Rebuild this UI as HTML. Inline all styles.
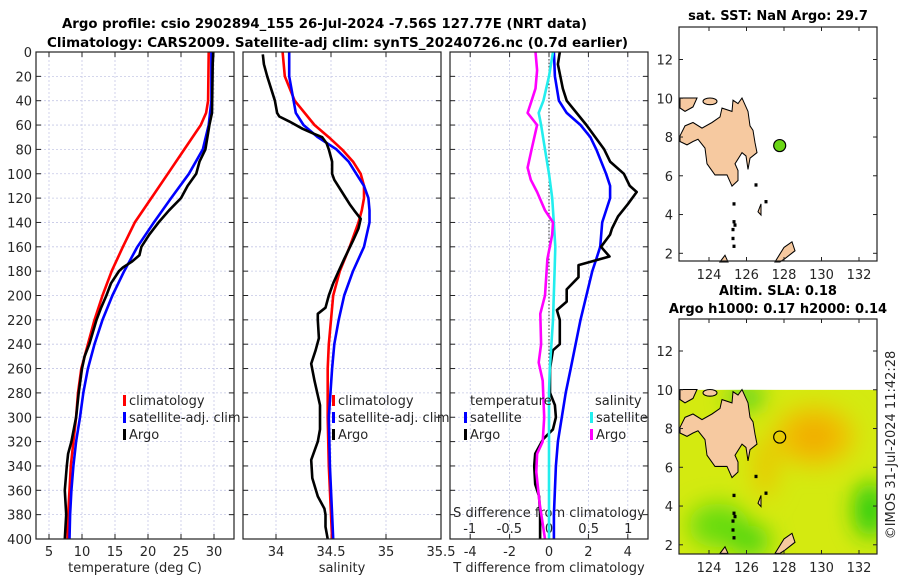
<!DOCTYPE html>
<html><head><meta charset="utf-8"><style>
body{margin:0;background:#fff;}
svg{display:block;font-family:"DejaVu Sans","Liberation Sans",sans-serif;}
.tk{font-size:13px;fill:#262626;}
.ti{font-size:13px;font-weight:bold;fill:#000;}
</style></head><body>
<svg id="fig" width="900" height="580" viewBox="0 0 900 580" xmlns="http://www.w3.org/2000/svg">
<text class="ti" x="62" y="28" textLength="525" lengthAdjust="spacingAndGlyphs">Argo profile: csio 2902894_155 26-Jul-2024 -7.56S 127.77E (NRT data)</text>
<text class="ti" x="47" y="47" textLength="581" lengthAdjust="spacingAndGlyphs">Climatology: CARS2009. Satellite-adj clim: synTS_20240726.nc (0.7d earlier)</text>
<g id="p1"></g>
<g id="p2"></g>
<g id="p3"></g>
<g id="m1"></g>
<g id="m2"></g>
<text class="tk" transform="translate(895,445) rotate(-90)" text-anchor="middle">©IMOS 31-Jul-2024 11:42:28</text>
</svg>
<script>
// ---- data ----
const tClimDepth=[0,40,50,60,80,100,120,140,160,180,200,220,240,260,280,300,320,340,360,380,400];
const tClimVal=[29.2,29.1,28.8,28.0,25.5,23.0,20.5,18.0,16.2,14.5,13.1,11.9,10.9,9.9,9.4,9.1,8.7,8.3,8.1,7.9,7.8];
const tSatDepth=[0,40,60,80,100,120,140,160,180,200,220,240,260,280,300,320,340,360,380,400];
const tSatVal=[29.6,29.6,29.2,28.3,26.2,23.5,20.9,18.4,16.4,14.6,13.1,11.9,10.9,10.2,9.7,9.1,8.7,8.4,8.2,8.1];
const tArgoDepth=[0,10,50,60,80,90,100,110,120,130,140,150,160,167,172,177,180,190,200,210,220,240,250,260,280,300,320,330,340,360,380,400];
const tArgoVal=[29.9,29.8,29.7,29.3,28.7,27.8,27.3,26.0,25.0,23.2,21.6,20.2,19.0,18.7,17.6,16.2,15.6,14.4,13.7,12.9,12.2,11.1,10.4,10.0,9.5,9.1,8.4,7.9,7.7,7.4,7.6,7.4];
const sClimDepth=[0,20,40,60,70,80,90,100,110,120,130,140,160,180,190,200,220,240,260,300,340,380,400];
const sClimVal=[34.06,34.08,34.17,34.35,34.48,34.60,34.70,34.77,34.80,34.80,34.78,34.75,34.67,34.58,34.55,34.52,34.50,34.48,34.47,34.47,34.48,34.50,34.51];
const sSatDepth=[0,20,40,50,60,70,80,90,100,110,120,130,140,160,180,200,220,240,260,300,340,380,400];
const sSatVal=[34.12,34.12,34.16,34.18,34.25,34.38,34.55,34.66,34.73,34.80,34.84,34.85,34.85,34.80,34.70,34.62,34.57,34.53,34.51,34.48,34.49,34.51,34.52];
const sArgoDepth=[2,10,20,40,50,53,57,63,67,70,75,80,90,100,105,115,125,130,137,145,155,170,180,190,200,210,215,220,235,245,256,270,290,310,320,335,350,365,375,380,390,400];
const sArgoVal=[33.88,33.89,33.92,33.99,34.01,34.03,34.12,34.24,34.34,34.42,34.46,34.48,34.51,34.51,34.53,34.60,34.67,34.71,34.77,34.75,34.70,34.62,34.57,34.52,34.48,34.45,34.38,34.38,34.39,34.36,34.32,34.35,34.40,34.40,34.38,34.32,34.33,34.38,34.44,34.45,34.45,34.47];
const dTSatDepth=[0,20,40,50,60,70,80,100,110,120,140,160,170,180,200,220,240,260,280,300,320,340,360,380,400];
const dTSatVal=[0.25,0.3,0.5,0.9,1.6,2.1,2.4,2.9,3.1,3.1,2.7,2.6,2.4,2.2,1.9,1.6,1.35,1.1,0.85,0.65,0.45,0.35,0.3,0.25,0.25];
const dTArgoDepth=[0,10,30,40,60,80,90,100,110,115,125,135,145,150,160,168,175,185,195,205,212,220,240,245,260,280,290,300,310,318,330,340,355,365,380,400];
const dTArgoVal=[0.55,0.45,0.7,0.9,1.9,2.8,3.1,3.8,4.1,4.45,4.0,3.5,3.2,3.1,2.64,3.07,1.5,1.5,0.9,0.9,0.4,0.55,0.55,0.2,0.05,0.05,0.3,0.35,0.2,-0.3,-0.7,-0.75,-0.7,-0.5,-0.45,-0.45];
const dSSatDepth=[0,20,40,50,60,80,100,120,140,160,180,200,220,240,260,280,300,340,400];
const dSSatVal=[0.05,0.0,-0.07,-0.13,-0.1,-0.05,0.0,0.04,0.06,0.08,0.07,0.06,0.05,0.03,0.01,0,0,0,0];
const dSArgoDepth=[0,15,30,40,50,60,80,95,105,115,130,140,150,170,200,215,240,255,270,300,320,330,345,370,400];
const dSArgoVal=[-0.17,-0.15,-0.17,-0.22,-0.27,-0.15,-0.22,-0.27,-0.23,-0.15,-0.05,0.05,0.04,-0.02,-0.05,-0.11,-0.1,-0.13,-0.08,-0.06,-0.08,-0.15,-0.16,-0.12,-0.05];
const depthTicks=[0,20,40,60,80,100,120,140,160,180,200,220,240,260,280,300,320,340,360,380,400];
const tTicks=[5,10,15,20,25,30];
const sTicks=[34,34.5,35,35.5];
const dTTicks=[-4,-2,0,2,4];
const dSTicks=[-1,-0.5,0,0.5,1];
const lonTicks=[124,126,128,130,132];
const latTicks=[2,4,6,8,10,12];
const argoLon=127.77, argoLat=7.56;

// ---- helpers ----
const NS="http://www.w3.org/2000/svg";
function mk(parent,tag,attrs,txt){const e=document.createElementNS(NS,tag);for(const k in attrs)e.setAttribute(k,attrs[k]);if(txt!==undefined)e.textContent=txt;parent.appendChild(e);return e;}
const Y0=52,Y1=539;
const yD=d=>Y0+d/400*(Y1-Y0);
function panel(g,x0,x1,xs,xticks,xlab,showY){
  for(const d of depthTicks){const l=mk(g,'line',{x1:x0,x2:x1,y1:yD(d),y2:yD(d),stroke:'#c5c8e6','stroke-width':0.8,'stroke-dasharray':'2,2'});}
  for(const v of xticks){const x=xs(v);if(x>x0+1&&x<x1-1){const l=mk(g,'line',{x1:x,x2:x,y1:Y0,y2:Y1,stroke:'#c5c8e6','stroke-width':0.8,'stroke-dasharray':'2,2'});}}
  for(const d of depthTicks){mk(g,'line',{x1:x0,x2:x0+5,y1:yD(d),y2:yD(d),stroke:'#222'});mk(g,'line',{x1:x1-5,x2:x1,y1:yD(d),y2:yD(d),stroke:'#222'});
    if(showY){const t=mk(g,'text',{class:'tk',x:x0-4,y:yD(d)+5,'text-anchor':'end'},d);}}
  for(const v of xticks){const x=xs(v);mk(g,'line',{x1:x,x2:x,y1:Y1-5,y2:Y1,stroke:'#222'});mk(g,'line',{x1:x,x2:x,y1:Y0,y2:Y0+5,stroke:'#222'});
    const t=mk(g,'text',{class:'tk',x:x,y:Y1+17,'text-anchor':'middle'},v);}
  const t=mk(g,'text',{class:'tk',x:(x0+x1)/2,y:572,'text-anchor':'middle'},xlab);
  
}
function frame(g,x0,x1){const r=mk(g,'rect',{x:x0,y:Y0,width:x1-x0,height:Y1-Y0,fill:'none',stroke:'#222','stroke-width':1.2});}
function line(g,xs,depths,vals,color,name){const pts=depths.map((d,i)=>xs(vals[i]).toFixed(1)+','+yD(d).toFixed(1)).join(' ');
  const p=mk(g,'polyline',{points:pts,fill:'none',stroke:color,'stroke-width':2.6,'stroke-linejoin':'round'});}
function legend(g,x,y,color,label){mk(g,'rect',{x:x-6,y:y-10,width:3,height:11,fill:color});const t=mk(g,'text',{class:'tk',x:x,y:y},label);}

// panel 1
const p1=document.getElementById('p1');const xT=v=>49+(v-5)*6.6;
panel(p1,36,234,xT,tTicks,'temperature (deg C)',true);
line(p1,xT,tClimDepth,tClimVal,'#ff0000','climatology-line');
line(p1,xT,tSatDepth,tSatVal,'#0000ff','satellite-clim-line');
line(p1,xT,tArgoDepth,tArgoVal,'#000000','argo-temperature-line');
legend(p1,129,405,'#ff0000','climatology');legend(p1,129,422,'#0000ff','satellite-adj. clim');legend(p1,129,439,'#000','Argo');
frame(p1,36,234);
// panel 2
const p2=document.getElementById('p2');const xS=v=>276+(v-34)*110;
panel(p2,243,441,xS,sTicks,'salinity',false);
line(p2,xS,sClimDepth,sClimVal,'#ff0000','climatology-salinity-line');
line(p2,xS,sSatDepth,sSatVal,'#0000ff','satellite-salinity-line');
line(p2,xS,sArgoDepth,sArgoVal,'#000000','argo-salinity-line');
legend(p2,338,405,'#ff0000','climatology');legend(p2,338,422,'#0000ff','satellite-adj. clim');legend(p2,338,439,'#000','Argo');
frame(p2,243,441);
// panel 3
const p3=document.getElementById('p3');const xdT=v=>549+v*19.7;const xdS=v=>549+v*79.3;
panel(p3,450,648,xdT,dTTicks,'T difference from climatology',false);
mk(p3,'line',{x1:549,x2:549,y1:Y0,y2:Y1,stroke:'#333','stroke-width':1,'stroke-dasharray':'1.5,2'});
for(const v of dSTicks){const t=mk(p3,'text',{class:'tk',x:xdS(v),y:533,'text-anchor':'middle'},v);}
const st=mk(p3,'text',{class:'tk',x:549,y:517,'text-anchor':'middle'},'S difference from climatology');
line(p3,xdT,dTSatDepth,dTSatVal,'#0000ff','temp-satellite-diff-line');
line(p3,xdT,dTArgoDepth,dTArgoVal,'#000000','temp-argo-diff-line');
line(p3,xdS,dSSatDepth,dSSatVal,'#22eeee','sal-satellite-diff-line');
line(p3,xdS,dSArgoDepth,dSArgoVal,'#ff00ff','sal-argo-diff-line');
{const t=mk(p3,'text',{class:'tk',x:470,y:405},'temperature');}
legend(p3,470,422,'#0000ff','satellite');legend(p3,470,439,'#000','Argo');
{const t=mk(p3,'text',{class:'tk',x:595,y:405},'salinity');}
legend(p3,596,422,'#22eeee','satellite');legend(p3,596,439,'#ff00ff','Argo');
frame(p3,450,648);

// maps
const landPts="680,122 685,113 693,110 702,115 712,110 720,105 722,97 732,100 733,90 738,93 742,88 748,100 750,113 753,117 755,128 757,137 750,142 748,152 746,140 742,137 735,147 738,153 738,162 732,167 727,157 715,157 707,147 705,133 698,125 693,127 687,130 680,127";
function map(id,top,bot,lat12y,title,title2,field){
  const g=document.getElementById(id);const X0=679,X1=877;
  const xL=l=>709+(l-124)*18.75; const yL=a=>lat12y+(12-a)*19.38;
  const dy=yL(8)-123*1.115;
  if(field){
    const defs=mk(g,'defs',{});
    const f=mk(defs,'filter',{id:'bl',x:'-50%',y:'-50%',width:'200%',height:'200%'});mk(f,'feGaussianBlur',{stdDeviation:12});
    const cp=mk(defs,'clipPath',{id:'fc'});mk(cp,'rect',{x:X0,y:yL(10),width:X1-X0,height:bot-yL(10)});
    const fg=mk(g,'g',{'clip-path':'url(#fc)'});
    mk(fg,'rect',{x:X0,y:yL(10),width:X1-X0,height:bot-yL(10),fill:'#d4ea10'});
    const bg=mk(fg,'g',{filter:'url(#bl)'});
    mk(bg,'ellipse',{cx:xL(129.6),cy:yL(7.6),rx:40,ry:30,fill:'#f0c000'});
    mk(bg,'ellipse',{cx:xL(129.6),cy:yL(7.6),rx:18,ry:14,fill:'#f0a800'});
    mk(bg,'ellipse',{cx:xL(127),cy:yL(6),rx:12,ry:30,fill:'#e8c800'});
    mk(bg,'ellipse',{cx:xL(124.5),cy:yL(3),rx:30,ry:22,fill:'#66dc11'});
    mk(bg,'ellipse',{cx:xL(126.2),cy:yL(2.2),rx:20,ry:15,fill:'#44d411'});
    mk(bg,'ellipse',{cx:xL(132.6),cy:yL(3.8),rx:16,ry:28,fill:'#22cc11'});
    mk(bg,'ellipse',{cx:xL(126),cy:yL(9.6),rx:18,ry:10,fill:'#33cc22'});
  }
  const land=mk(g,'g',{transform:`translate(0,${dy}) scale(1,1.115)`,fill:'#f6c9a0',stroke:'#000','stroke-width':1});
  
  mk(land,'polygon',{points:landPts});
  mk(land,'polygon',{points:"680,88 697,88 693,96 685,100 680,97"});
  mk(land,'ellipse',{cx:710,cy:91,rx:7,ry:3});
  mk(land,'polygon',{points:"775,235 784,222 792,217 795,225 785,232 780,235"});
  mk(land,'polygon',{points:"720,235 725,229 728,235"});
  mk(land,'polygon',{points:"758,190 761,183 761,193"});
  for(const [x,y] of [[733,198],[734,201],[732,213],[733,220],[732,205],[765,180],[755,165],[733,182]])mk(land,'rect',{x:x,y:y,width:2,height:2,fill:'#000'});
  // axes
  for(const l of lonTicks){const x=xL(l);mk(g,'line',{x1:x,x2:x,y1:bot-4,y2:bot,stroke:'#222'});mk(g,'line',{x1:x,x2:x,y1:top,y2:top+4,stroke:'#222'});
    const t=mk(g,'text',{class:'tk',x:x,y:bot+18,'text-anchor':'middle'},l);}
  for(const a of latTicks){const y=yL(a);mk(g,'line',{x1:X0,x2:X0+4,y1:y,y2:y,stroke:'#222'});mk(g,'line',{x1:X1-4,x2:X1,y1:y,y2:y,stroke:'#222'});
    const t=mk(g,'text',{class:'tk',x:X0-6,y:y+5,'text-anchor':'end'},a);}
  const c=mk(g,'circle',{cx:xL(argoLon),cy:yL(argoLat),r:6,fill:field?'none':'#6ad615',stroke:'#000','stroke-width':1.2});
  
  const r=mk(g,'rect',{x:X0,y:top,width:X1-X0,height:bot-top,fill:'none',stroke:'#222','stroke-width':1.2});
  const t1=mk(g,'text',{class:'ti',x:778,y:title2?top-24:top-7,'text-anchor':'middle'},title);
  if(title2){const t2=mk(g,'text',{class:'ti',x:778,y:top-6,'text-anchor':'middle'},title2);}
}
map('m1',27,261,59.5,'sat. SST: NaN Argo: 29.7',null,false);
map('m2',319,554,351,'Altim. SLA: 0.18','Argo h1000: 0.17 h2000: 0.14',true);
</script>
</body></html>
